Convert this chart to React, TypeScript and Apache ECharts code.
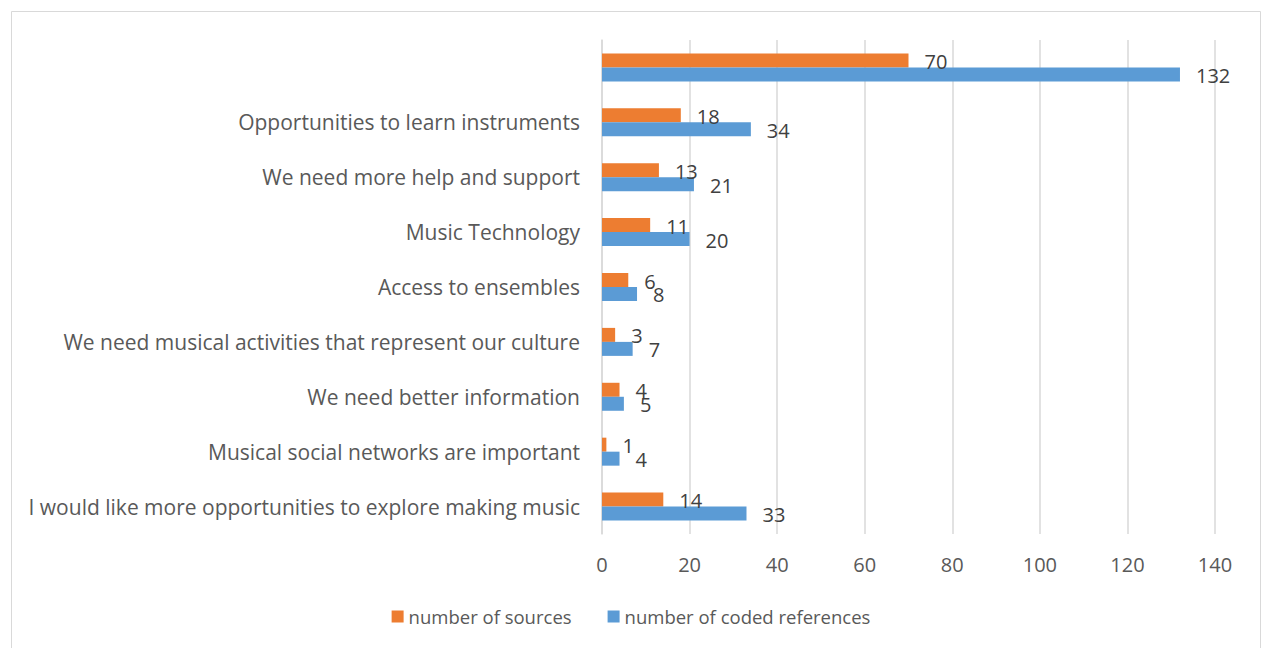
import React, { useEffect, useRef } from "react";
import * as echarts from "echarts";

const categories = [
  "I would like more opportunities to explore making music",
  "Musical social networks are important",
  "We need better information",
  "We need musical activities that represent our culture",
  "Access to ensembles",
  "Music Technology",
  "We need more help and support",
  "Opportunities to learn instruments",
  "",
];
const sources = [14, 1, 4, 3, 6, 11, 13, 18, 70];
const codedRefs = [33, 4, 5, 7, 8, 20, 21, 34, 132];
const xTicks = { min: 0, max: 140, interval: 20 };

const FONT = "Open Sans";
const TEXT = "#595959";

export default function App() {
  const ref = useRef<HTMLDivElement>(null);
  useEffect(() => {
    const chart = echarts.init(ref.current!, null, { renderer: "svg" });
    const label = {
      show: true,
      position: "right" as const,
      distance: 16,
      color: "#404040",
      fontFamily: FONT,
      fontSize: 20,
    };
    chart.setOption({
      animation: false,
      backgroundColor: "#ffffff",
      graphic: [
        {
          type: "rect",
          shape: { x: 11.5, y: 11.5, width: 1249, height: 660 },
          style: { fill: "none", stroke: "#d9d9d9", lineWidth: 1 },
          silent: true,
        },
      ],
      grid: { left: 602, right: 47, top: 40, bottom: 114, containLabel: false },
      legend: {
        data: ["number of sources", "number of coded references"],
        bottom: 17,
        left: "center",
        itemWidth: 12,
        itemHeight: 12,
        itemGap: 36,
        icon: "rect",
        textStyle: { fontFamily: FONT, fontSize: 18.5, color: TEXT },
      },
      xAxis: {
        type: "value",
        min: xTicks.min,
        max: xTicks.max,
        interval: xTicks.interval,
        axisLine: { show: false },
        axisTick: { show: false },
        splitLine: { show: true, lineStyle: { color: "#d9d9d9", width: 1.5 } },
        axisLabel: { fontFamily: FONT, fontSize: 20, color: TEXT, margin: 20 },
      },
      yAxis: {
        type: "category",
        data: categories,
        axisLine: { show: true, lineStyle: { color: "#d9d9d9", width: 1.5 } },
        axisTick: { show: false },
        axisLabel: { fontFamily: FONT, fontSize: 21, color: TEXT, margin: 22 },
      },
      series: [
        {
          name: "number of sources",
          type: "bar",
          data: sources,
          barGap: "0%",
          barCategoryGap: "49%",
          itemStyle: { color: "#ed7d31" },
          label: { ...label, offset: [0, 1] },
        },
        {
          name: "number of coded references",
          type: "bar",
          data: codedRefs,
          barGap: "0%",
          barCategoryGap: "49%",
          itemStyle: { color: "#5b9bd5" },
          label: { ...label, offset: [0, 1] },
        },
      ],
    });
    return () => chart.dispose();
  }, []);
  return (
    <div
      ref={ref}
      style={{ position: "fixed", left: 0, top: 0, width: 1262, height: 648 }}
    />
  );
}
